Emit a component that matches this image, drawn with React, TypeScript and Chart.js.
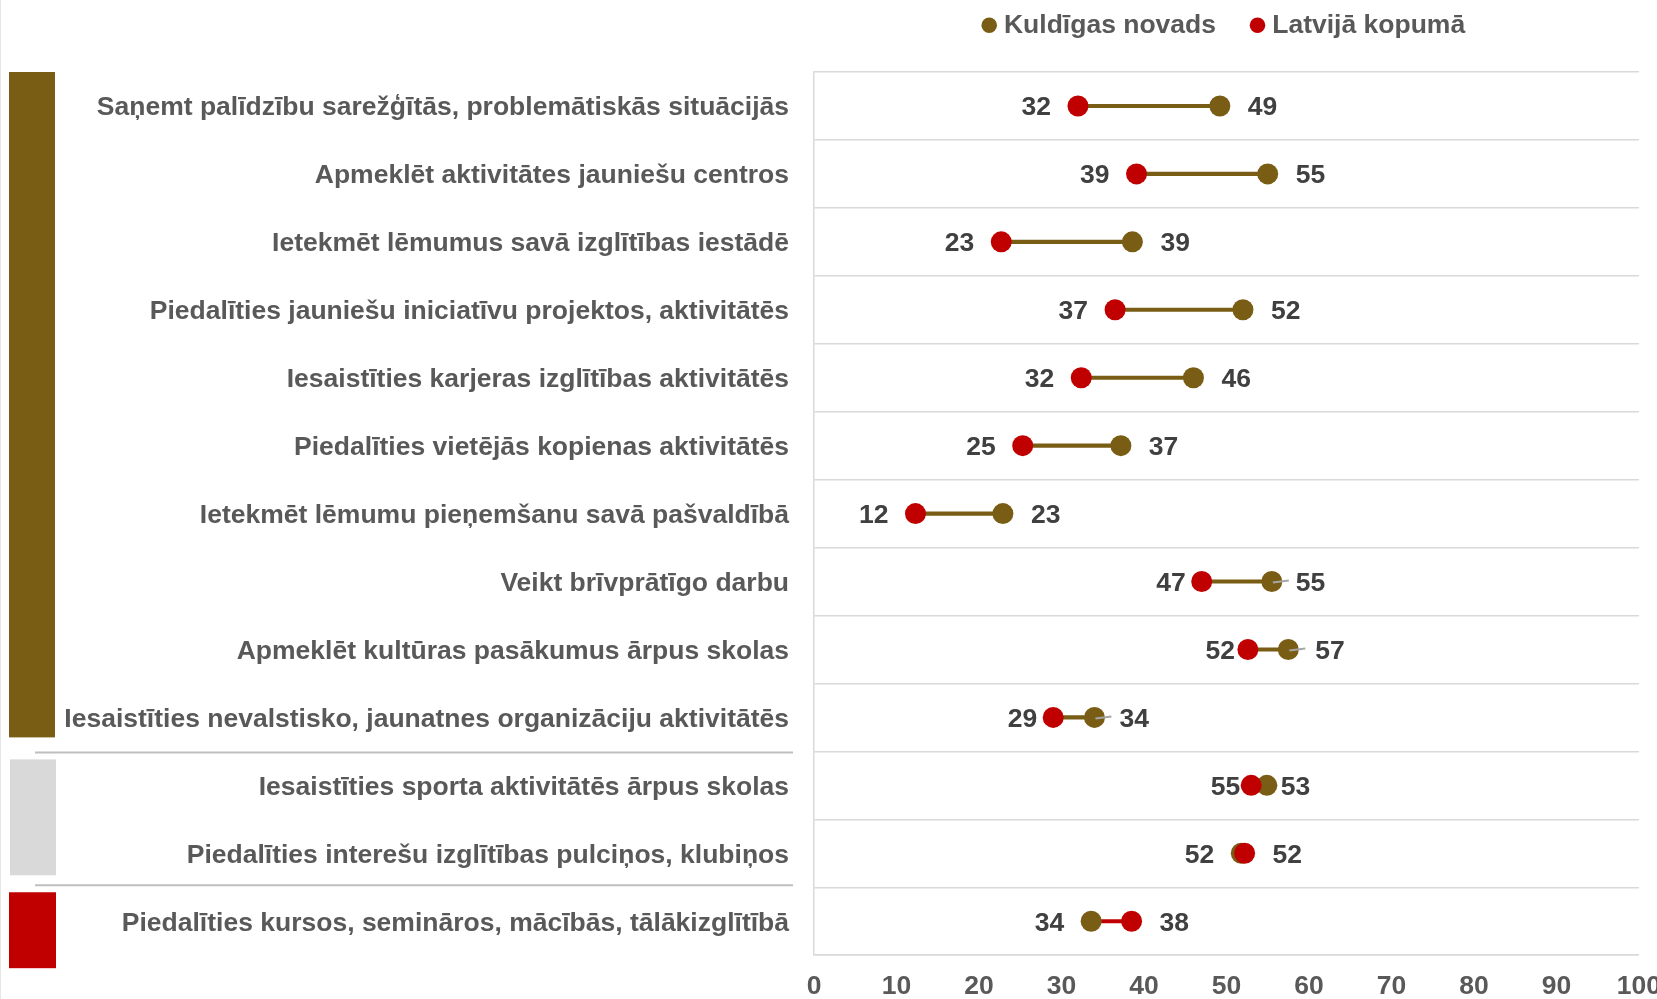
import React, { useEffect, useRef } from 'react';
import { Chart, registerables } from 'chart.js';

Chart.register(...registerables);

const categories = [
  'Saņemt palīdzību sarežģītās, problemātiskās situācijās',
  'Apmeklēt aktivitātes jauniešu centros',
  'Ietekmēt lēmumus savā izglītības iestādē',
  'Piedalīties jauniešu iniciatīvu projektos, aktivitātēs',
  'Iesaistīties karjeras izglītības aktivitātēs',
  'Piedalīties vietējās kopienas aktivitātēs',
  'Ietekmēt lēmumu pieņemšanu savā pašvaldībā',
  'Veikt brīvprātīgo darbu',
  'Apmeklēt kultūras pasākumus ārpus skolas',
  'Iesaistīties nevalstisko, jaunatnes organizāciju aktivitātēs',
  'Iesaistīties sporta aktivitātēs ārpus skolas',
  'Piedalīties interešu izglītības pulciņos, klubiņos',
  'Piedalīties kursos, semināros, mācībās, tālākizglītībā',
];

const kuldigaValues = [49.2, 55.0, 38.6, 52.0, 46.0, 37.2, 22.9, 55.5, 57.5, 34.0, 54.9, 51.8, 33.6];
const latvijaValues = [32.0, 39.1, 22.7, 36.5, 32.4, 25.3, 12.3, 47.0, 52.6, 29.0, 53.0, 52.2, 38.5];

const kuldigaLabels = ['49', '55', '39', '52', '46', '37', '23', '55', '57', '34', '53', '52', '34'];
const latvijaLabels = ['32', '39', '23', '37', '32', '25', '12', '47', '52', '29', '55', '52', '38'];

const seriesNames = ['Kuldīgas novads', 'Latvijā kopumā'];

const xMin = 0;
const xMax = 100;
const xStep = 10;

// label layout (gap in px between point centre and label edge), per row
const lowLabelGap = [27, 27, 27, 27, 27, 27, 27, 16, 13, 16, 11, 27, 27];
const highLabelGap = [28, 28, 28, 28, 28, 28, 28, 24, 27, 25, 14, 28, 28];
const leaderRows = [false, false, false, false, false, false, false, true, true, true, false, false, false];

const BROWN = '#7A5D14';
const RED = '#C00000';
const GRID = '#D9D9D9';
const FONT = '"Liberation Sans", Arial, sans-serif';
const FS = 26.5;

const decorPlugin = {
  id: 'decor',
  beforeDraw(chart: any) {
    const { ctx } = chart;
    const y = chart.scales.y;
    const rowH = (y.bottom - y.top) / categories.length;
    const b = (i: number) => y.top + rowH * i;
    ctx.save();
    ctx.strokeStyle = '#E6E6E6';
    ctx.lineWidth = 1;
    ctx.beginPath();
    ctx.moveTo(0.5, 0);
    ctx.lineTo(0.5, chart.height);
    ctx.stroke();
    ctx.fillStyle = BROWN;
    ctx.fillRect(9, b(0), 46, b(10) - 14 - b(0));
    ctx.fillStyle = GRID;
    ctx.fillRect(10, b(10) + 8, 46, b(12) - 12 - (b(10) + 8));
    ctx.fillStyle = RED;
    ctx.fillRect(9, b(12) + 5, 47, b(13) + 13 - (b(12) + 5));
    ctx.strokeStyle = '#BFBFBF';
    ctx.lineWidth = 2;
    ctx.beginPath();
    ctx.moveTo(35, b(10) + 1);
    ctx.lineTo(793, b(10) + 1);
    ctx.moveTo(35, b(12) - 2);
    ctx.lineTo(793, b(12) - 2);
    ctx.stroke();
    ctx.restore();
  },
};

const leaderPlugin = {
  id: 'leaders',
  afterDatasetsDraw(chart: any) {
    const { ctx } = chart;
    const x = chart.scales.x;
    const y = chart.scales.y;
    ctx.save();
    ctx.strokeStyle = '#A6A6A6';
    ctx.lineWidth = 2;
    categories.forEach((_, i) => {
      if (!leaderRows[i]) return;
      const px = x.getPixelForValue(kuldigaValues[i]);
      const py = y.getPixelForValue(i);
      ctx.beginPath();
      ctx.moveTo(px + 1, py + 1);
      ctx.lineTo(px + 17, py - 1);
      ctx.stroke();
    });
    ctx.restore();
  },
};

const labelPlugin = {
  id: 'dumbbellLabels',
  afterDatasetsDraw(chart: any) {
    const { ctx } = chart;
    const x = chart.scales.x;
    const y = chart.scales.y;
    ctx.save();
    ctx.font = `bold ${FS}px ${FONT}`;
    ctx.fillStyle = '#404040';
    ctx.textBaseline = 'middle';
    categories.forEach((_, i) => {
      const k = kuldigaValues[i];
      const l = latvijaValues[i];
      const py = y.getPixelForValue(i) + 2;
      const kLow = k < l;
      const lowText = kLow ? kuldigaLabels[i] : latvijaLabels[i];
      const highText = kLow ? latvijaLabels[i] : kuldigaLabels[i];
      ctx.textAlign = 'right';
      ctx.fillText(lowText, x.getPixelForValue(Math.min(k, l)) - lowLabelGap[i], py);
      ctx.textAlign = 'left';
      ctx.fillText(highText, x.getPixelForValue(Math.max(k, l)) + highLabelGap[i], py);
    });
    ctx.restore();
  },
};

export default function App() {
  const ref = useRef<HTMLCanvasElement | null>(null);

  useEffect(() => {
    if (!ref.current) return;
    Chart.defaults.font.family = FONT;
    const chart = new Chart(ref.current, {
      type: 'line',
      data: {
        labels: categories,
        datasets: [
          {
            label: seriesNames[0],
            data: kuldigaValues,
            indexAxis: 'y',
            showLine: false,
            backgroundColor: BROWN,
            borderColor: BROWN,
            pointBackgroundColor: BROWN,
            pointRadius: 10.5,
            pointHoverRadius: 10.5,
            pointBorderWidth: 0,
            order: 1,
          } as any,
          {
            label: seriesNames[1],
            data: latvijaValues,
            indexAxis: 'y',
            showLine: false,
            backgroundColor: RED,
            borderColor: RED,
            pointBackgroundColor: RED,
            pointRadius: 10.5,
            pointHoverRadius: 10.5,
            pointBorderWidth: 0,
            order: 0,
          } as any,
          {
            type: 'bar',
            label: 'connector',
            data: categories.map((_, i) => [
              Math.min(kuldigaValues[i], latvijaValues[i]),
              Math.max(kuldigaValues[i], latvijaValues[i]),
            ]),
            indexAxis: 'y',
            backgroundColor: categories.map((_, i) => (kuldigaValues[i] >= latvijaValues[i] ? BROWN : RED)),
            borderWidth: 0,
            barThickness: 3.5,
            order: 2,
          } as any,
        ],
      },
      options: {
        responsive: false,
        animation: false,
        indexAxis: 'y',
        events: [],
        layout: { padding: { top: -28, left: 0, right: 0, bottom: 0 } },
        scales: {
          x: {
            type: 'linear',
            position: 'bottom',
            min: xMin,
            max: xMax,
            ticks: {
              stepSize: xStep,
              padding: 16,
              color: '#595959',
              font: { size: FS, weight: 'bold' },
            },
            grid: { display: false, drawTicks: false },
            border: { display: true, color: GRID, width: 1.5 },
          },
          y: {
            type: 'category',
            labels: categories,
            offset: true,
            grid: { offset: true, color: GRID, lineWidth: 1.5, drawTicks: false },
            border: { display: true, color: GRID, width: 1.5 },
            ticks: {
              autoSkip: false,
              padding: 25,
              labelOffset: 2,
              color: '#595959',
              font: { size: FS, weight: 'bold' },
            },
            afterFit: (s: any) => {
              s.width = 814;
            },
          },
        },
        plugins: {
          legend: {
            position: 'top',
            fullSize: false,
            align: 'center',
            labels: {
              usePointStyle: true,
              pointStyle: 'circle',
              boxWidth: 3,
              boxHeight: 11,
              padding: 40,
              color: '#595959',
              font: { size: FS, weight: 'bold' },
              filter: (item: any) => item.datasetIndex < 2,
              sort: (a: any, b: any) => a.datasetIndex - b.datasetIndex,
            },
          },
          title: {
            display: true,
            text: '',
            weight: 500,
            font: { size: 10, lineHeight: 1 },
            padding: { top: 0, bottom: 13.5 },
          } as any,
          tooltip: { enabled: false },
        },
      } as any,
      plugins: [decorPlugin, leaderPlugin, labelPlugin],
    });
    return () => chart.destroy();
  }, []);

  return (
    <div
      style={{
        position: 'fixed',
        left: 0,
        top: 0,
        width: 1657,
        height: 999,
        overflow: 'hidden',
        background: '#ffffff',
      }}
    >
      <canvas ref={ref} width={1677} height={1019} style={{ display: 'block' }} />
    </div>
  );
}
